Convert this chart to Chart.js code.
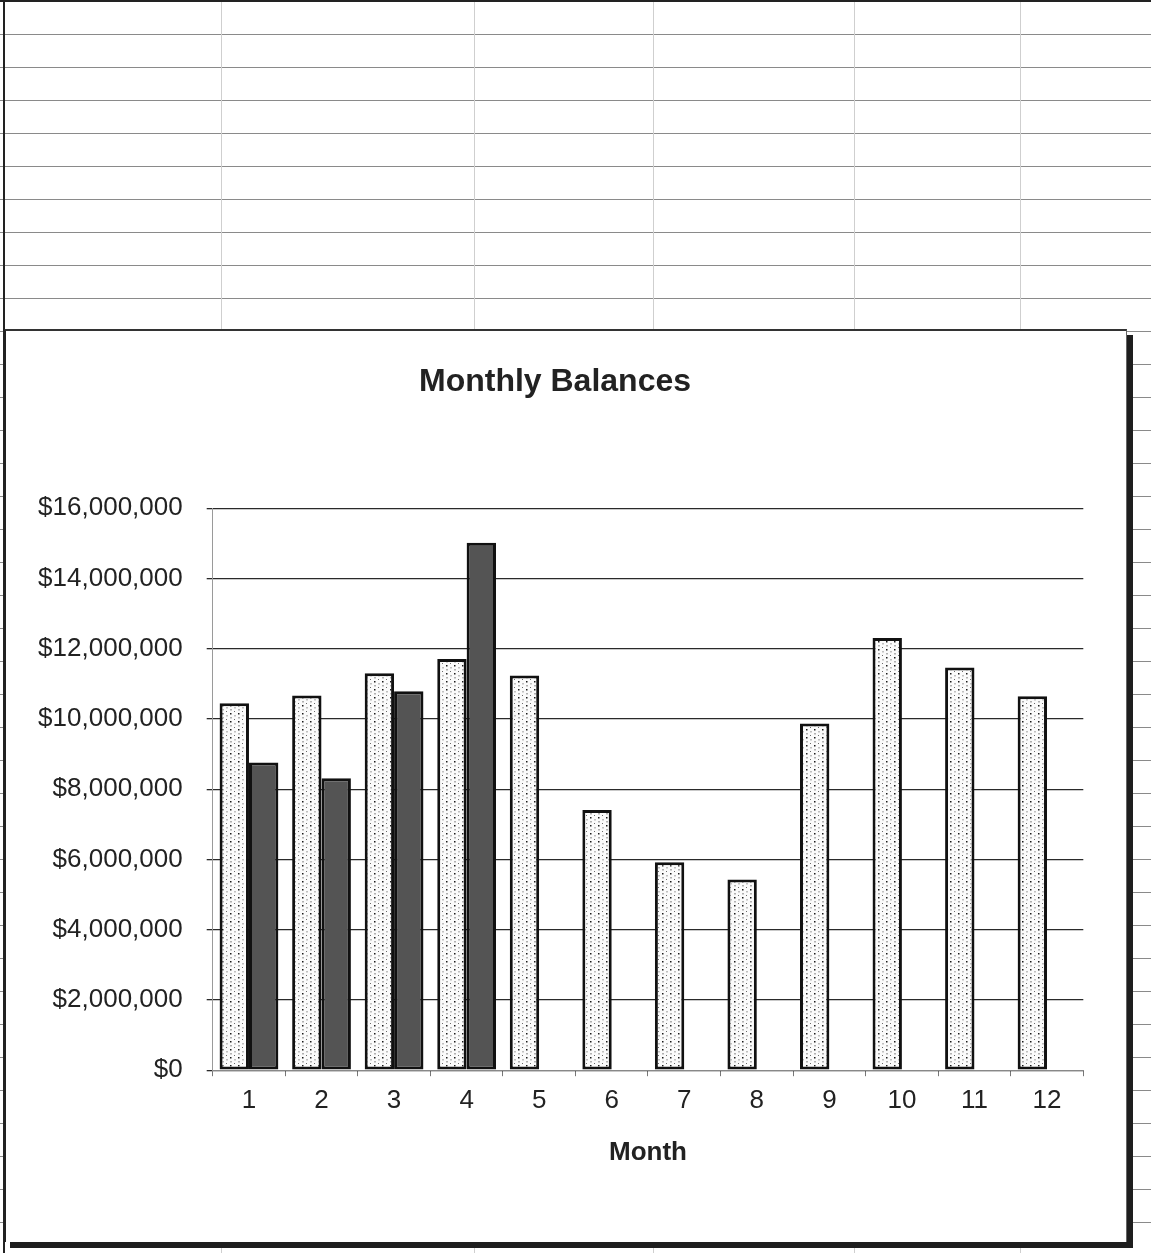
<!DOCTYPE html>
<html>
<head>
<meta charset="utf-8">
<script src="https://cdn.jsdelivr.net/npm/chart.js@4.4.1/dist/chart.umd.min.js"></script>
<style>
  html, body { margin: 0; padding: 0; }
  body {
    width: 1151px; height: 1253px; position: relative; overflow: hidden;
    background-color: #fff;
    background-image: repeating-linear-gradient(to bottom, transparent 0px, transparent 32px, #8a8a8a 32px, #8a8a8a 33px);
    background-position: 0 2px;
  }
  .frameTop { position: absolute; left: 0; top: 0; width: 1151px; height: 2px; background: #222; }
  .frameLeft { position: absolute; left: 3px; top: 0; width: 2px; height: 1253px; background: #222; }
  .vline { position: absolute; top: 0; width: 1px; height: 1253px; background: #cfcfcf; }
  #box {
    position: absolute; left: 4px; top: 329px; width: 1120px; height: 911px;
    background: #fff; border-top: 2px solid #333; border-right: 1px solid #666; border-left: 2px solid #222;
    box-shadow: 6px 6px 0 #1e1e1e;
  }
  #c { position: absolute; left: 5px; top: 329px; }
</style>
</head>
<body>
<div class="vline" style="left:221px"></div>
<div class="vline" style="left:474px"></div>
<div class="vline" style="left:653px"></div>
<div class="vline" style="left:854px"></div>
<div class="vline" style="left:1020px"></div>
<div class="frameTop"></div>
<div class="frameLeft"></div>
<div id="box"></div>
<canvas id="c" width="1120" height="912"></canvas>
<script>
const months = ['1','2','3','4','5','6','7','8','9','10','11','12'];
const seriesLight = [10450000, 10670000, 11300000, 11710000, 11240000, 7410000, 5920000, 5430000, 9870000, 12310000, 11470000, 10650000];
const seriesDark = [8760000, 8310000, 10790000, 15020000, null, null, null, null, null, null, null, null];
const yTicks = { min: 0, max: 16000000, step: 2000000 };
const chartTitle = 'Monthly Balances';
const xTitle = 'Month';

const canvas = document.getElementById('c');
const ctx = canvas.getContext('2d');

function dotPattern() {
  const t = document.createElement('canvas');
  t.width = 8; t.height = 8;
  const g = t.getContext('2d');
  g.fillStyle = '#fbfbfb'; g.fillRect(0, 0, 8, 8);
  g.fillStyle = '#1a1a1a'; g.fillRect(1, 0, 1.5, 1.5);
  g.fillStyle = '#b0b0b0'; g.fillRect(1, 4, 2, 1.5);
  g.fillStyle = '#c0c0c0'; g.fillRect(5, 2, 2, 1.5);
  g.fillStyle = '#6a6a6a'; g.fillRect(5, 6, 1, 1);
  return ctx.createPattern(t, 'repeat');
}

const FONT = "'Liberation Sans', Arial, sans-serif";

new Chart(ctx, {
  type: 'bar',
  data: {
    labels: months,
    datasets: [
      { label: 'Series 1', data: seriesLight, backgroundColor: dotPattern(), borderColor: '#111', borderWidth: 3, borderSkipped: false,
        categoryPercentage: 0.81, barPercentage: 1.0 },
      { label: 'Series 2', data: seriesDark, backgroundColor: '#545454', borderColor: '#111', borderWidth: 3, borderSkipped: false,
        categoryPercentage: 0.81, barPercentage: 1.0 }
    ]
  },
  options: {
    responsive: false,
    animation: false,
    devicePixelRatio: 1,
    layout: { padding: { left: 21.7, right: 41.7, top: 0, bottom: 72.4 } },
    plugins: {
      legend: { display: false },
      tooltip: { enabled: false },
      title: {
        display: true, text: chartTitle, color: '#222',
        font: { family: FONT, size: 32, weight: 'bold' },
        padding: { top: 33.8, bottom: 107.1 }
      }
    },
    scales: {
      x: {
        type: 'category',
        grid: { display: true, drawOnChartArea: false, drawTicks: true, tickLength: 6, color: '#777', offset: true, lineWidth: 1 },
        border: { display: true, color: '#888', width: 1 },
        ticks: { color: '#222', padding: 9, font: { family: FONT, size: 26 }, maxRotation: 0, autoSkip: false },
        title: { display: true, text: xTitle, color: '#222', font: { family: FONT, size: 26, weight: 'bold' }, padding: { top: 12, bottom: 0 } }
      },
      y: {
        min: yTicks.min, max: yTicks.max,
        grid: { color: '#2a2a2a', lineWidth: 1.3, drawTicks: true, tickLength: 6 },
        border: { display: true, color: '#9a9a9a', width: 1 },
        ticks: {
          stepSize: yTicks.step, color: '#222', padding: 24,
          font: { family: FONT, size: 26 },
          callback: v => '$' + Number(v).toLocaleString('en-US')
        },
        afterFit: s => { s.width = 186; }
      }
    }
  }
});
</script>
</body>
</html>
